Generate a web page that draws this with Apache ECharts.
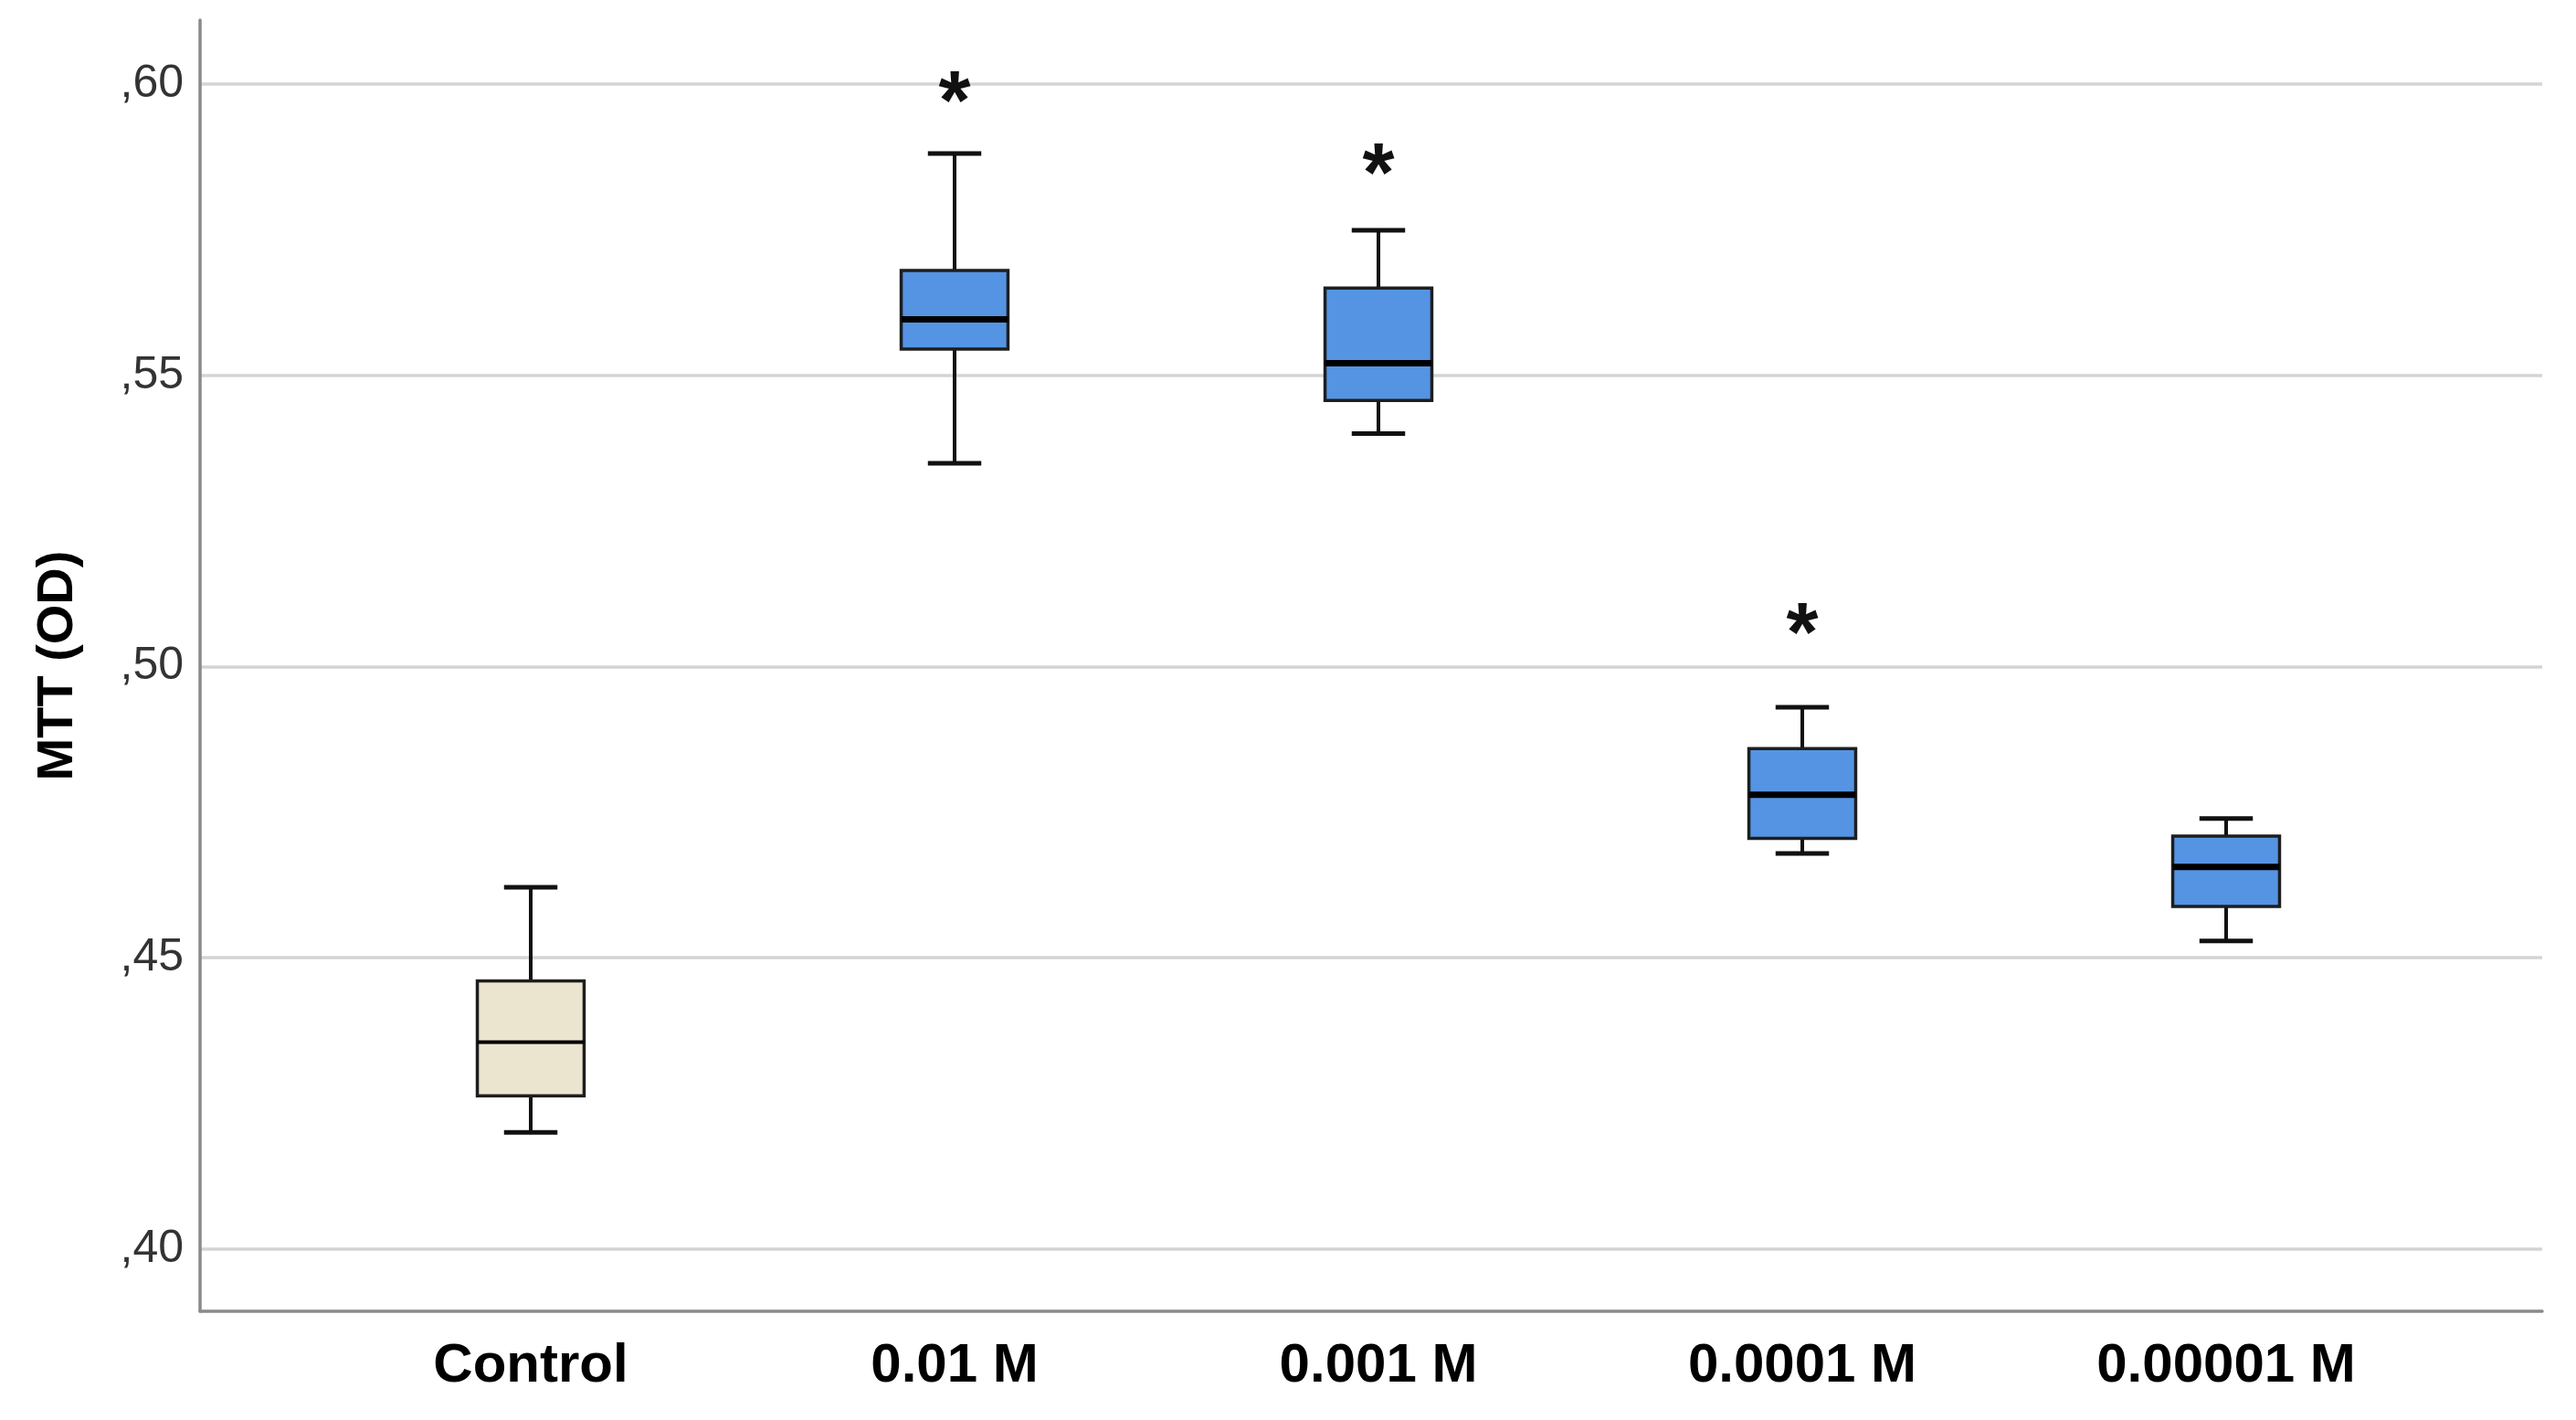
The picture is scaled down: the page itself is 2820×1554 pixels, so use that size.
<!DOCTYPE html>
<html><head><meta charset="utf-8">
<script src="https://cdn.jsdelivr.net/npm/echarts@6/dist/echarts.min.js"></script>
<style>html,body{margin:0;padding:0;background:#fff}#chart{width:2820px;height:1554px}</style>
</head><body><div id="chart"></div>
<script>
// ---- data ----
const categories = ['Control', '0.01 M', '0.001 M', '0.0001 M', '0.00001 M'];
const whiskerLow  = [0.4200, 0.5349, 0.5400, 0.4679, 0.4529];
const quartile1   = [0.4263, 0.5545, 0.5457, 0.4705, 0.4588];
const medians     = [0.4355, 0.5596, 0.5521, 0.4780, 0.4656];
const quartile3   = [0.4460, 0.5680, 0.5650, 0.4859, 0.4709];
const whiskerHigh = [0.4621, 0.5881, 0.5749, 0.4930, 0.4739];
const significance = ['', '*', '*', '*', ''];
const markerY      = [null, 0.5993, 0.5869, 0.5080, null];
const yTicks      = [0.40, 0.45, 0.50, 0.55, 0.60];
const yTickLabels = [',40', ',45', ',50', ',55', ',60'];

// ---- styles ----
const FONT = '"Liberation Sans", Arial, sans-serif';
const fillControl = '#ebe5cf';
const fillTreated = '#5594e3';
const Y_MIN = 0.3893, Y_MAX = 0.611;

const boxData = categories.map((c, i) => [i, whiskerLow[i], quartile1[i], medians[i], quartile3[i], whiskerHigh[i]]);
const markData = categories.map((c, i) => [i, markerY[i], significance[i]]).filter(d => d[1] != null);

const chart = echarts.init(document.getElementById('chart'), null, {renderer: 'canvas'});

function renderBox(params, api) {
  const x = api.value(0);
  const pLo = api.coord([x, api.value(1)]);
  const pQ1 = api.coord([x, api.value(2)]);
  const pMed = api.coord([x, api.value(3)]);
  const pQ3 = api.coord([x, api.value(4)]);
  const pHi = api.coord([x, api.value(5)]);
  const band = api.size([1, 0])[0];
  const boxW = band * 0.252;
  const capW = boxW * 0.5;
  const cx = pMed[0];
  const fill = x === 0 ? fillControl : fillTreated;
  const medW = x === 0 ? 4 : 7;
  return {
    type: 'group',
    children: [
      {type: 'line', shape: {x1: cx, y1: pHi[1], x2: cx, y2: pQ3[1]}, style: {stroke: '#111', lineWidth: 4}},
      {type: 'line', shape: {x1: cx, y1: pQ1[1], x2: cx, y2: pLo[1]}, style: {stroke: '#111', lineWidth: 4}},
      {type: 'line', shape: {x1: cx - capW / 2, y1: pHi[1], x2: cx + capW / 2, y2: pHi[1]}, style: {stroke: '#111', lineWidth: 5}},
      {type: 'line', shape: {x1: cx - capW / 2, y1: pLo[1], x2: cx + capW / 2, y2: pLo[1]}, style: {stroke: '#111', lineWidth: 5}},
      {type: 'rect', shape: {x: cx - boxW / 2, y: pQ3[1], width: boxW, height: pQ1[1] - pQ3[1]},
        style: {fill: fill, stroke: '#1e1e1e', lineWidth: 3.5}},
      {type: 'line', shape: {x1: cx - boxW / 2, y1: pMed[1], x2: cx + boxW / 2, y2: pMed[1]}, style: {stroke: '#000', lineWidth: medW}}
    ]
  };
}

function renderMark(params, api) {
  const p = api.coord([api.value(0), api.value(1)]);
  const fs = 90;
  return {
    type: 'text',
    x: p[0], y: p[1] + fs * 0.22,
    style: {text: significance[api.value(0)], fontSize: fs, fontWeight: 'bold', fontFamily: FONT,
      fill: '#111', align: 'center', verticalAlign: 'middle'}
  };
}

const option = {
  animation: false,
  backgroundColor: '#fff',
  grid: [
    {left: 219, right: 37, top: 22, bottom: 119},
    {left: 349, right: 151, top: 22, bottom: 119}
  ],
  xAxis: [
    {gridIndex: 0, type: 'value', min: 0, max: 1,
      axisLine: {show: true, onZero: false, lineStyle: {color: '#8a8a8a', width: 3.5}},
      axisTick: {show: false}, axisLabel: {show: false}, splitLine: {show: false}},
    {gridIndex: 1, type: 'category', data: categories,
      axisLine: {show: false}, axisTick: {show: false}, splitLine: {show: false},
      axisLabel: {show: true, margin: 30, fontSize: 60, fontWeight: 'bold', fontFamily: FONT, color: '#000'}}
  ],
  yAxis: [
    {gridIndex: 0, type: 'value', min: Y_MIN, max: Y_MAX, minInterval: 0.05, maxInterval: 0.05,
      axisLine: {show: true, lineStyle: {color: '#8a8a8a', width: 3.5}},
      axisTick: {show: false},
      axisLabel: {margin: 18, fontSize: 50, fontFamily: FONT, color: '#333', showMinLabel: false, showMaxLabel: false,
        formatter: function (v) {
          const i = yTicks.findIndex(t => Math.abs(t - v) < 1e-6);
          return i >= 0 ? yTickLabels[i] : '';
        }},
      splitLine: {show: true, showMinLine: false, showMaxLine: false, lineStyle: {color: '#d4d4d4', width: 3.5}},
      name: 'MTT (OD)', nameLocation: 'middle', nameGap: 127,
      nameTextStyle: {fontSize: 56, fontWeight: 'bold', fontFamily: FONT, color: '#000'}},
    {gridIndex: 1, type: 'value', min: Y_MIN, max: Y_MAX, show: false}
  ],
  series: [
    {type: 'custom', xAxisIndex: 1, yAxisIndex: 1, renderItem: renderBox, data: boxData,
      encode: {x: 0, y: [1, 2, 3, 4, 5]}, clip: false},
    {type: 'custom', xAxisIndex: 1, yAxisIndex: 1, renderItem: renderMark, data: markData,
      encode: {x: 0, y: 1}, clip: false}
  ]
};
chart.setOption(option);
</script></body></html>
